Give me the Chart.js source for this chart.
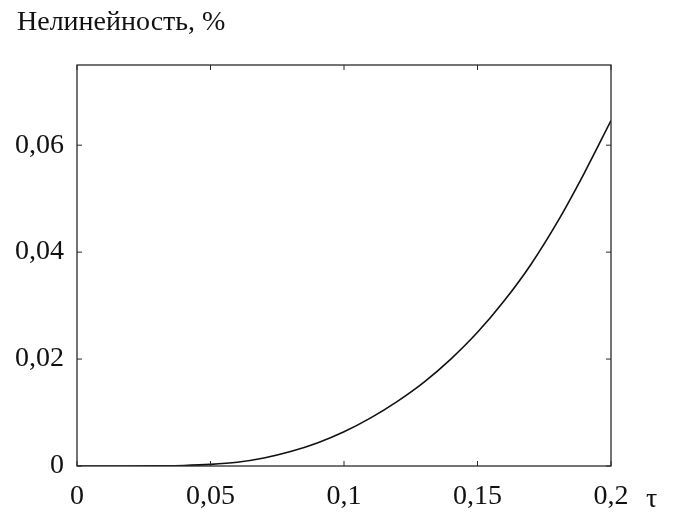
<!DOCTYPE html>
<html>
<head>
<meta charset="utf-8">
<script src="https://cdn.jsdelivr.net/npm/chart.js@4.4.1/dist/chart.umd.min.js"></script>
<style>
  html, body { margin: 0; padding: 0; background: #fff; }
  #wrap { width: 678px; height: 513px; }
</style>
</head>
<body>
<div id="wrap"><canvas id="nonlinChart" width="678" height="513"></canvas></div>
<script>
// values
const tau = [0, 0.01, 0.02, 0.03, 0.04, 0.05, 0.06, 0.07, 0.08, 0.09, 0.1,
             0.11, 0.12, 0.13, 0.14, 0.15, 0.16, 0.17, 0.18, 0.19, 0.2];
const nonlinearity = [0, 0, 0, 0.00003, 0.0001, 0.0003, 0.0007, 0.0015, 0.0027, 0.0043, 0.0064,
                      0.0090, 0.0121, 0.0157, 0.0200, 0.0250, 0.0309, 0.0377, 0.0457, 0.0548, 0.0646];
const xTicks = [0, 0.05, 0.1, 0.15, 0.2];
const yTicks = [0, 0.02, 0.04, 0.06];

const serif = '"Liberation Serif", "Times New Roman", serif';

function fmt(v) {
    return parseFloat(v.toFixed(4)).toString().replace('.', ',');
}

// box frame, inward ticks and the extra labels
const framePlugin = {
    id: 'frame',
    afterDraw(chart) {
        const ctx = chart.ctx;
        const a = chart.chartArea;
        const xs = chart.scales.x, ys = chart.scales.y;
        ctx.save();
        ctx.strokeStyle = '#2a2a2a';
        ctx.lineWidth = 1.3;
        ctx.strokeRect(a.left, a.top, a.right - a.left, a.bottom - a.top);
        ctx.lineWidth = 1;
        ctx.beginPath();
        xTicks.forEach(v => {
            const px = xs.getPixelForValue(v);
            ctx.moveTo(px, a.bottom); ctx.lineTo(px, a.bottom - 5);
            ctx.moveTo(px, a.top); ctx.lineTo(px, a.top + 5);
        });
        yTicks.forEach(v => {
            const py = ys.getPixelForValue(v);
            ctx.moveTo(a.left, py); ctx.lineTo(a.left + 5, py);
            ctx.moveTo(a.right, py); ctx.lineTo(a.right - 5, py);
        });
        ctx.stroke();

        ctx.fillStyle = '#111';
        ctx.font = '28px ' + serif;
        ctx.textBaseline = 'alphabetic';
        ctx.textAlign = 'left';
        ctx.fillText('Нелинейность, %', 17, 30);
        ctx.fillText('τ', a.right + 35, a.bottom + 41);
        ctx.restore();
    }
};

new Chart(document.getElementById('nonlinChart').getContext('2d'), {
    type: 'line',
    data: {
        datasets: [{
            data: tau.map((t, i) => ({ x: t, y: nonlinearity[i] })),
            borderColor: '#111',
            borderWidth: 1.6,
            pointRadius: 0,
            cubicInterpolationMode: 'monotone',
            fill: false
        }]
    },
    options: {
        responsive: false,
        animation: false,
        layout: { padding: { left: 0, right: 67, top: 65, bottom: 0 } },
        plugins: {
            legend: { display: false },
            title: { display: false },
            tooltip: { enabled: false }
        },
        scales: {
            x: {
                type: 'linear',
                min: 0,
                max: 0.2,
                afterFit: s => { s.height = 47; },
                afterBuildTicks: s => { s.ticks = xTicks.map(v => ({ value: v })); },
                grid: { display: false, drawTicks: false },
                border: { display: false },
                ticks: {
                    padding: 14,
                    color: '#111',
                    font: { family: serif, size: 28 },
                    callback: v => fmt(v)
                }
            },
            y: {
                type: 'linear',
                min: 0,
                max: 0.075,
                afterFit: s => { s.width = 77; },
                afterBuildTicks: s => { s.ticks = yTicks.map(v => ({ value: v })); },
                grid: { display: false, drawTicks: false },
                border: { display: false },
                ticks: {
                    padding: 13,
                    color: '#111',
                    font: { family: serif, size: 28 },
                    callback: v => fmt(v)
                }
            }
        }
    },
    plugins: [framePlugin]
});
</script>
</body>
</html>
